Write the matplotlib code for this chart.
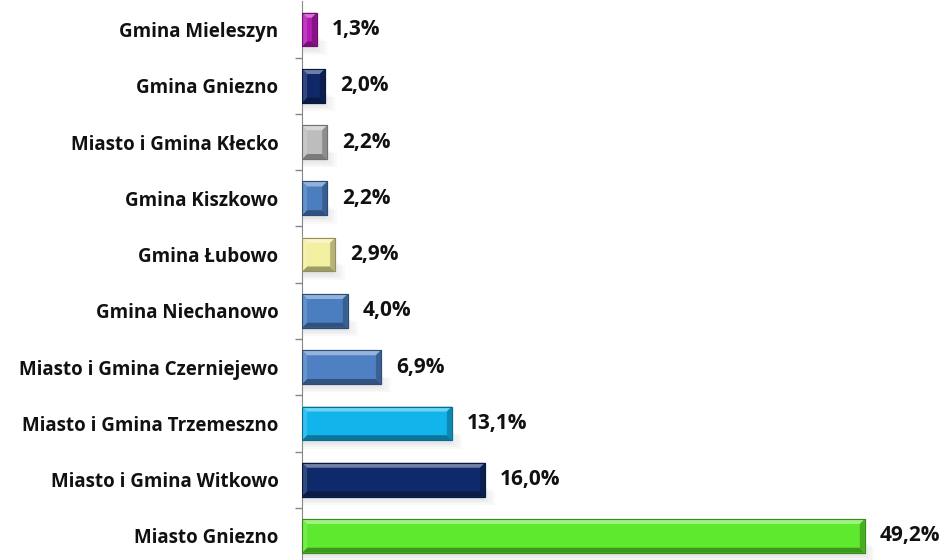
import matplotlib.pyplot as plt
import matplotlib.colors as mcolors
from matplotlib.patches import Polygon, Rectangle

gminy = [
    "Miasto Gniezno",
    "Miasto i Gmina Witkowo",
    "Miasto i Gmina Trzemeszno",
    "Miasto i Gmina Czerniejewo",
    "Gmina Niechanowo",
    "Gmina Łubowo",
    "Gmina Kiszkowo",
    "Miasto i Gmina Kłecko",
    "Gmina Gniezno",
    "Gmina Mieleszyn",
]
udzial = [49.2, 16.0, 13.1, 6.9, 4.0, 2.9, 2.2, 2.2, 2.0, 1.3]
kolory = [
    "#5EE82E", "#0F2A6A", "#12B4EC", "#4F80C4", "#4A7EC0",
    "#F3EFA0", "#4A7EC0", "#BDBDBD", "#0E2868", "#B41AB4",
]

plt.rcParams['font.family'] = ['Open Sans', 'DejaVu Sans']

fig = plt.figure(figsize=(9.45, 5.6), dpi=100)
W, H = 945, 560
ax = fig.add_axes([302 / W, -4 / H, 572 / W, 562.5 / H])
ax.set_xlim(0, 50)
ax.set_ylim(-0.5, len(gminy) - 0.5)

h = 0.6
bars = ax.barh(range(len(gminy)), udzial, height=h, color=kolory, zorder=3)


def shade(c, f):
    r, g, b = mcolors.to_rgb(c)
    if f > 0:
        return (r + (1 - r) * f, g + (1 - g) * f, b + (1 - b) * f)
    return (r * (1 + f), g * (1 + f), b * (1 + f))


# bevel widths in data units (about 5 px)
dx = 5 * 50 / 572
dy = 5 / 56.25
for bar, c in zip(bars, kolory):
    x0, y0 = bar.get_x(), bar.get_y()
    x1, y1 = x0 + bar.get_width(), y0 + bar.get_height()
    bar.set_edgecolor(shade(c, -0.35))
    bar.set_linewidth(0.8)
    # soft shadow under the bar
    for k in range(4):
        ax.add_patch(Rectangle((x0, y0 - 0.06 - 0.03 * k), x1 - x0 + 0.3 * k, 0.25,
                               color="#000000", alpha=0.025, lw=0, zorder=2))
    facets = [
        ([(x0, y1), (x1, y1), (x1 - dx, y1 - dy), (x0 + dx, y1 - dy)], shade(c, 0.4)),
        ([(x0, y0), (x1, y0), (x1 - dx, y0 + dy), (x0 + dx, y0 + dy)], shade(c, -0.35)),
        ([(x0, y0), (x0, y1), (x0 + dx, y1 - dy), (x0 + dx, y0 + dy)], shade(c, 0.15)),
        ([(x1, y0), (x1, y1), (x1 - dx, y1 - dy), (x1 - dx, y0 + dy)], shade(c, -0.25)),
    ]
    for pts, fc in facets:
        ax.add_patch(Polygon(pts, closed=True, fc=fc, ec="none", zorder=4))
    ax.add_patch(Rectangle((x0, y0), x1 - x0, y1 - y0, fc="none",
                           ec=shade(c, -0.4), lw=0.8, zorder=5))
    ax.text(x1 + 1.3, bar.get_y() + bar.get_height() / 2,
            f"{bar.get_width():.1f}%".replace(".", ","),
            va="center", ha="left", fontsize=15, fontweight="bold",
            color="#111111", clip_on=False, zorder=6)

ax.set_yticks(range(len(gminy)))
ax.set_yticklabels(gminy, fontsize=13.5, fontweight="bold", color="#111111")
ax.tick_params(axis="y", which="major", length=0, pad=17)
ax.set_yticks([i + 0.5 for i in range(len(gminy) - 1)], minor=True)
ax.tick_params(axis="y", which="minor", length=5, color="#888888", width=1)
ax.set_xticks([])
for s in ["top", "right", "bottom"]:
    ax.spines[s].set_visible(False)
ax.spines["left"].set_color("#888888")

fig.savefig("out.png", dpi=100)
